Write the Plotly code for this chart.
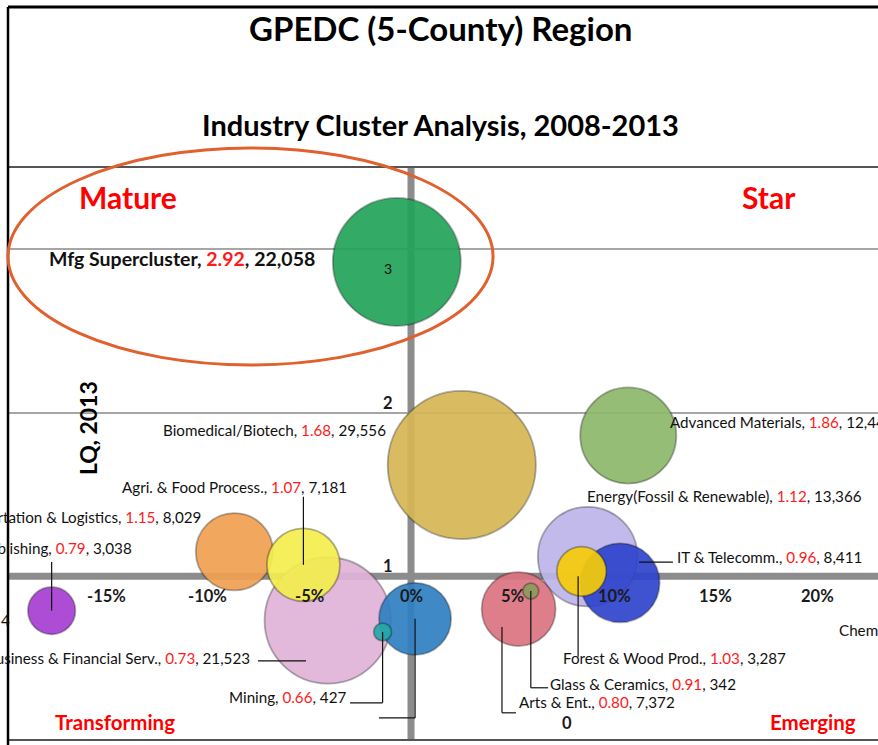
import plotly.graph_objects as go

# ---------------- data ----------------
clusters = ["Biomedical/Biotech", "Mfg Supercluster", "Advanced Materials",
            "Energy(Fossil & Renewable)", "IT & Telecomm.", "Forest & Wood Prod.",
            "Arts & Ent.", "Glass & Ceramics", "Business & Financial Serv.",
            "Unlabeled cluster", "Mining", "Transportation & Logistics",
            "Agri. & Food Process.", "Publishing"]
growth_pct = [2.5, -0.7, 10.7, 8.7, 10.3, 8.4, 5.3, 5.9, -4.1, 0.2, -1.4, -8.7, -5.3, -17.7]
lq_2013 = [1.68, 2.92, 1.86, 1.12, 0.96, 1.03, 0.80, 0.91, 0.73, 0.74, 0.66, 1.15, 1.07, 0.79]
employment = [29556, 22058, 12445, 13366, 8411, 3287, 7372, 342, 21523, 7000, 427, 8029, 7181, 3038]

x_ticks = [-20, -15, -10, -5, 0, 5, 10, 15, 20]
y_ticks = [1, 2]

# ---------------- styles ----------------
colors = ["#D6B655", "#22A35A", "#8DB86A", "#BDB5EA", "#2F44CC", "#F5CC0A",
          "#DC7482", "#8C9B5C", "#E0B3D8", "#2F80C2", "#26A8A8", "#F0A151",
          "#F4EE4E", "#A73DD2"]

FONT = "Lato, 'Open Sans', sans-serif"

# label anchors (data units) : name -> (x, y, xanchor)
label_pos = {
    "Mfg Supercluster": (-17.93, 2.944, "left"),
    "Biomedical/Biotech": (-1.13, 1.894, "right"),
    "Agri. & Food Process.": (-3.05, 1.546, "right"),
    "Transportation & Logistics": (-10.25, 1.362, "right"),
    "Publishing": (-13.65, 1.173, "right"),
    "Business & Financial Serv.": (-7.83, 0.501, "right"),
    "Mining": (-3.10, 0.263, "right"),
    "Advanced Materials": (12.66, 1.943, "left"),
    "Energy(Fossil & Renewable)": (8.57, 1.490, "left"),
    "IT & Telecomm.": (13.00, 1.118, "left"),
    "Forest & Wood Prod.": (7.39, 0.501, "left"),
    "Glass & Ceramics": (6.75, 0.342, "left"),
    "Arts & Ent.": (5.22, 0.232, "left"),
}

fig = go.Figure()
fig.add_trace(go.Scatter(
    x=growth_pct, y=lq_2013, mode="markers",
    marker=dict(size=employment, sizemode="area",
                sizeref=2 * 22058 / 128 ** 2,
                color=colors, opacity=0.92,
                line=dict(color="rgba(0,0,0,0.33)", width=1.8)),
    text=clusters, hoverinfo="text", showlegend=False, cliponaxis=True))

ann = []


def note(**kw):
    kw.setdefault("showarrow", False)
    kw.setdefault("xanchor", "center")
    kw.setdefault("yanchor", "middle")
    ann.append(kw)


# cluster labels
for name, gx, lq, emp in zip(clusters, growth_pct, lq_2013, employment):
    if name not in label_pos:
        continue
    lx, ly, xa = label_pos[name]
    big = name == "Mfg Supercluster"
    note(x=lx, y=ly, xref="x", yref="y", xanchor=xa,
         text=f"{name}, <span style='color:#FF1A1A'>{lq:.2f}</span>, {emp:,}",
         font=dict(family=FONT, size=19.5 if big else 15.2, color="#111",
                   weight="bold" if big else "normal"))

# cut-off labels at chart edges
note(x=20.99, y=0.672, xref="x", yref="y", xanchor="left", text="Chemicals",
     font=dict(family=FONT, size=15.2, color="#111"))
note(x=0.005, y=0.21, xref="paper", yref="paper", xanchor="right", text="4",
     font=dict(family=FONT, size=15.2, color="#111"))

# bubble value label inside the Mfg bubble
note(x=-1.13, y=2.88, xref="x", yref="y", text="3",
     font=dict(family=FONT, size=14, color="#111"))

# pseudo tick labels along the crossing axes
for t in x_ticks:
    note(x=t, y=0.88, xref="x", yref="y", text=f"{t}%",
         font=dict(family=FONT, size=16.5, color="#1a1a1a", weight="bold"))
for t in y_ticks:
    note(x=-1.13, y=t, xref="x", yref="y", yshift=10, text=str(t),
         font=dict(family=FONT, size=16.5, color="#1a1a1a", weight="bold"))
note(x=7.68, y=0.104, xref="x", yref="y", text="0",
     font=dict(family=FONT, size=16.5, color="#1a1a1a", weight="bold"))

# titles
note(x=0.4977, y=1.2426, xref="paper", yref="paper", text="GPEDC (5-County) Region",
     font=dict(family=FONT, size=33, color="#000", weight="bold"))
note(x=0.4977, y=1.0733, xref="paper", yref="paper", text="Industry Cluster Analysis, 2008-2013",
     font=dict(family=FONT, size=29, color="#000", weight="bold"))
note(x=0.092, y=0.5445, xref="paper", yref="paper", text="LQ, 2013", textangle=-90,
     font=dict(family=FONT, size=23, color="#000", weight="bold"))

# quadrant names
for txt, qx, qy, sz in [("Mature", 0.138, 0.9476, 30), ("Star", 0.8747, 0.9476, 30),
                        ("Transforming", 0.123, 0.0314, 20.5), ("Emerging", 0.925, 0.0314, 20.5)]:
    note(x=qx, y=qy, xref="paper", yref="paper", text=txt,
         font=dict(family=FONT, size=sz, color="#FF0000", weight="bold"))

shapes = []
# crossing axes (thick grey)
shapes.append(dict(type="line", xref="paper", yref="y", x0=0, x1=1, y0=1, y1=1,
                   line=dict(color="#8C8C8C", width=7), layer="below"))
shapes.append(dict(type="line", xref="x", yref="paper", x0=0, x1=0, y0=0, y1=1,
                   line=dict(color="#8C8C8C", width=7), layer="below"))
# plot-area frame and chart border
shapes.append(dict(type="line", xref="paper", yref="paper", x0=0, x1=1, y0=1, y1=1,
                   line=dict(color="#555", width=2)))
shapes.append(dict(type="line", xref="paper", yref="paper", x0=0, x1=1, y0=0, y1=0,
                   line=dict(color="#555", width=2)))
shapes.append(dict(type="line", xref="paper", yref="paper", x0=0, x1=1, y0=1.2792, y1=1.2792,
                   line=dict(color="#000", width=3)))
shapes.append(dict(type="line", xref="paper", yref="paper", x0=0, x1=0, y0=-0.02, y1=1.2792,
                   line=dict(color="#000", width=2.5)))

# leader lines (data units)
leaders = [
    [(-5.3, 1.486), (-5.3, 1.07)],
    [(-17.7, 1.087), (-17.7, 0.79)],
    [(-7.54, 0.483), (-5.17, 0.483)],
    [(-3.0, 0.227), (-1.4, 0.227), (-1.4, 0.66)],
    [(0.2, 0.74), (0.2, 0.135), (-1.58, 0.135)],
    [(11.23, 1.087), (12.9, 1.087)],
    [(8.23, 1.0), (8.23, 0.509)],
    [(5.9, 0.91), (5.9, 0.319), (6.75, 0.319)],
    [(4.48, 0.69), (4.48, 0.166), (5.17, 0.166)],
]
for pts in leaders:
    for (xa, ya), (xb, yb) in zip(pts[:-1], pts[1:]):
        shapes.append(dict(type="line", xref="x", yref="y", x0=xa, y0=ya, x1=xb, y1=yb,
                           line=dict(color="#111", width=1.2)))

# highlight ellipse
shapes.append(dict(type="circle", xref="paper", yref="paper",
                   x0=0.0, x1=0.5575, y0=0.6545, y1=1.0332,
                   line=dict(color="#E0602E", width=3)))

fig.update_layout(
    width=878, height=745,
    margin=dict(l=8, r=0, t=167, b=5),
    paper_bgcolor="white", plot_bgcolor="white",
    xaxis=dict(range=[-19.85, 23.0], showgrid=False, zeroline=False,
               showticklabels=False, showline=False, fixedrange=True),
    yaxis=dict(range=[0, 3.5], tickvals=[2, 3], showgrid=True, gridcolor="#A6A6A6",
               gridwidth=1.5, zeroline=False, showticklabels=False, showline=False,
               fixedrange=True),
    annotations=ann, shapes=shapes,
    font=dict(family=FONT),
)

# remove the default page margin so the 878x745 figure fills the window without scrollbars
fig.write_html(
    "out.html",
    config={"displayModeBar": False},
    post_script="document.body.style.margin='0';"
                "document.documentElement.style.overflow='hidden';"
                "document.body.style.overflow='hidden';",
)
